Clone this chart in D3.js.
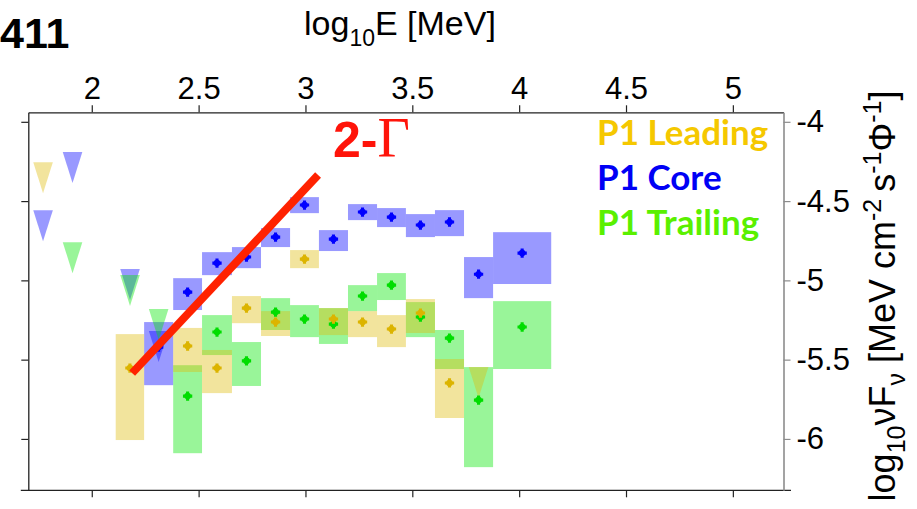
<!DOCTYPE html>
<html>
<head>
<meta charset="utf-8">
<script src="https://cdn.jsdelivr.net/npm/d3@7"></script>
<style>
  html, body { margin: 0; padding: 0; background: #fff; }
  svg { display: block; }
  text { font-family: "Liberation Sans", Arial, sans-serif; }
</style>
</head>
<body>
<svg id="chart" width="917" height="509"></svg>
<script>
// Energy bin edges in log10(E/MeV)
const binEdges = [2.112, 2.245, 2.381, 2.516, 2.656, 2.792, 2.928, 3.063, 3.199, 3.335, 3.470, 3.606, 3.742, 3.878, 4.150];

// log10 nuF_nu per bin: value, lower and upper edge of the uncertainty box (null = no detection)
const leadingVal = [-5.553, null, -5.414, -5.553, -5.175, -5.263, -4.866, -5.244, -5.263, -5.307, -5.206, -5.647, null, null];
const leadingLo  = [-6.007, null, -5.578, -5.711, -5.270, -5.351, -4.923, -5.345, -5.358, -5.421, -5.332, -5.868, null, null];
const leadingHi  = [-5.339, null, -5.300, -5.439, -5.099, -5.194, -4.809, -5.175, -5.194, -5.219, -5.118, -5.496, null, null];

const coreVal = [null, -5.421, -5.074, -4.891, -4.853, -4.727, -4.525, -4.740, -4.569, -4.601, -4.651, -4.632, -4.961, -4.828];
const coreLo  = [null, -5.661, -5.187, -4.967, -4.923, -4.790, -4.576, -4.815, -4.620, -4.664, -4.727, -4.721, -5.112, -5.023];
const coreHi  = [null, -5.263, -4.986, -4.822, -4.790, -4.670, -4.475, -4.683, -4.519, -4.544, -4.582, -4.557, -4.853, -4.696];

const trailingVal = [null, null, -5.730, -5.326, -5.508, -5.200, -5.244, -5.276, -5.099, -5.030, -5.231, -5.364, -5.755, -5.294];
const trailingLo  = [null, null, -6.090, -5.471, -5.666, -5.313, -5.358, -5.401, -5.194, -5.124, -5.358, -5.559, -6.178, -5.559];
const trailingHi  = [null, null, -5.535, -5.219, -5.389, -5.112, -5.156, -5.175, -5.030, -4.954, -5.137, -5.313, -5.547, -5.131];

// Upper limits (x in log10 E, y = limit in log10 nuF_nu)
const leadingLimX  = [1.772, 3.810];
const leadingLimY  = [-4.255, -5.547];
const coreLimX     = [1.910, 1.772, 2.179, 2.313];
const coreLimY     = [-4.191, -4.557, -4.929, -5.320];
const trailingLimX = [1.910, 2.179, 2.313];
const trailingLimY = [-4.759, -4.966, -5.181];

// Reference power-law slope line
const slopeX = [2.189, 3.059];
const slopeY = [-5.585, -4.336];

const xTicks = [2, 2.5, 3, 3.5, 4, 4.5, 5];
const yTicks = [-4, -4.5, -5, -5.5, -6];

const seriesNames = ["P1 Leading", "P1 Core", "P1 Trailing"];

const svg = d3.select("#chart");
const x = d3.scaleLinear().domain([1.703, 5.237]).range([28.3, 783.5]);
const y = d3.scaleLinear().domain([-3.94, -6.324]).range([112.3, 490.3]);

const series = [
  { name: seriesNames[1], val: coreVal, lo: coreLo, hi: coreHi, limX: coreLimX, limY: coreLimY,
    fill: "rgb(0,0,255)", pt: "#0000ff" },
  { name: seriesNames[2], val: trailingVal, lo: trailingLo, hi: trailingHi, limX: trailingLimX, limY: trailingLimY,
    fill: "rgb(0,230,0)", pt: "#00dd00" },
  { name: seriesNames[0], val: leadingVal, lo: leadingLo, hi: leadingHi, limX: leadingLimX, limY: leadingLimY,
    fill: "rgb(222,188,10)", pt: "#dcb400" }
];

const plot = svg.append("g");
const boxAlpha = 0.4;

// uncertainty boxes and upper-limit triangles
series.forEach(s => {
  const rows = s.val.map((v, i) => ({ v, lo: s.lo[i], hi: s.hi[i], x0: binEdges[i], x1: binEdges[i + 1] }))
    .filter(d => d.v !== null);
  plot.append("g").selectAll("rect").data(rows).join("rect")
    .attr("x", d => x(d.x0))
    .attr("width", d => x(d.x1) - x(d.x0))
    .attr("y", d => y(d.hi))
    .attr("height", d => y(d.lo) - y(d.hi))
    .attr("fill", s.fill)
    .attr("fill-opacity", boxAlpha);

  const lims = s.limX.map((lx, i) => ({ x: lx, y: s.limY[i] }));
  plot.append("g").selectAll("path").data(lims).join("path")
    .attr("d", d => {
      const cx = x(d.x), top = y(d.y);
      return `M${cx - 9.8},${top} L${cx + 9.8},${top} L${cx},${top + 31} Z`;
    })
    .attr("fill", s.fill)
    .attr("fill-opacity", boxAlpha);
});

// central values
const marker = d3.symbol().type(d3.symbolCross).size(48);
series.forEach(s => {
  const pts = s.val.map((v, i) => ({ v, c: (binEdges[i] + binEdges[i + 1]) / 2 })).filter(d => d.v !== null);
  const g = plot.append("g").attr("fill", s.pt);
  g.selectAll("path").data(pts).join("path")
    .attr("transform", d => `translate(${x(d.c)},${y(d.v)})`)
    .attr("d", marker);
  g.selectAll("circle").data(pts).join("circle")
    .attr("cx", d => x(d.c)).attr("cy", d => y(d.v)).attr("r", 3.3);
});

// slope reference line
svg.append("line")
  .attr("x1", x(slopeX[0])).attr("y1", y(slopeY[0]))
  .attr("x2", x(slopeX[1])).attr("y2", y(slopeY[1]))
  .attr("stroke", "rgb(255,34,0)").attr("stroke-width", 8);

const slopeLabel = svg.append("text").attr("x", 333).attr("y", 157).attr("fill", "rgb(255,20,10)");
slopeLabel.append("tspan").text("2-")
  .style("font-family", "'Liberation Sans', Arial, sans-serif").style("font-weight", "bold").style("font-size", "50px");
slopeLabel.append("tspan").text("Γ")
  .style("font-family", "'Liberation Serif', 'Times New Roman', serif").style("font-size", "56px");

// axes
const axisColor = "#222";
const topAxis = svg.append("g").attr("transform", `translate(0,${y.range()[0]})`)
  .call(d3.axisTop(x).tickValues(xTicks).tickSize(7).tickPadding(6).tickSizeOuter(0).tickFormat(d => String(d)));
topAxis.select(".domain").attr("stroke", axisColor).attr("stroke-width", 1.3);
topAxis.selectAll(".tick line").attr("stroke", axisColor).attr("stroke-width", 1.2);
topAxis.selectAll(".tick text").attr("fill", "#000")
  .style("font-size", "31px").style("font-family", "'Liberation Sans', Arial, sans-serif");

const bottomAxis = svg.append("g").attr("transform", `translate(0,${y.range()[1]})`)
  .call(d3.axisBottom(x).tickValues(xTicks).tickSize(7).tickSizeOuter(0).tickFormat(""));
bottomAxis.select(".domain").attr("d", `M${x.range()[0] - 7.5},0H${x.range()[1] + 7.5}`)
  .attr("stroke", axisColor).attr("stroke-width", 1.3);
bottomAxis.selectAll(".tick line").attr("stroke", axisColor).attr("stroke-width", 1.2);

const leftAxis = svg.append("g").attr("transform", `translate(${x.range()[0]},0)`)
  .call(d3.axisLeft(y).tickValues(yTicks).tickSize(7).tickSizeOuter(0).tickFormat(""));
leftAxis.select(".domain").attr("stroke", axisColor).attr("stroke-width", 1.3);
leftAxis.selectAll(".tick line").attr("stroke", axisColor).attr("stroke-width", 1.2);

const rightAxis = svg.append("g").attr("transform", `translate(${x.range()[1]},0)`)
  .call(d3.axisRight(y).tickValues(yTicks).tickSize(7).tickPadding(6).tickSizeOuter(0).tickFormat(d => String(d)));
rightAxis.select(".domain").attr("stroke", "#8c8c8c").attr("stroke-width", 1.6);
rightAxis.selectAll(".tick line").attr("stroke", "#8c8c8c").attr("stroke-width", 1.2);
rightAxis.selectAll(".tick text").attr("fill", "#000")
  .style("font-size", "31px").style("font-family", "'Liberation Sans', Arial, sans-serif");

// axis titles
const xTitle = svg.append("text").attr("x", 304).attr("y", 35)
  .style("font-size", "34px").attr("fill", "#000");
xTitle.append("tspan").text("log");
xTitle.append("tspan").text("10").style("font-size", "23px").attr("dy", 11);
xTitle.append("tspan").text("E [MeV]").attr("dy", -11);

const yTitle = svg.append("text")
  .attr("transform", "translate(895,296) rotate(-90)")
  .attr("text-anchor", "middle")
  .style("font-size", "36px").attr("fill", "#000");
yTitle.append("tspan").text("log");
yTitle.append("tspan").text("10").style("font-size", "25px").attr("dy", 10);
yTitle.append("tspan").text("νF").attr("dy", -10);
yTitle.append("tspan").text("ν").style("font-size", "25px").attr("dy", 10);
yTitle.append("tspan").text(" [MeV cm").attr("dy", -10);
yTitle.append("tspan").text("-2").style("font-size", "25px").attr("dy", -14);
yTitle.append("tspan").text("s").attr("dy", 14).attr("dx", 7);
yTitle.append("tspan").text("-1").style("font-size", "25px").attr("dy", -14);
yTitle.append("tspan").text("Φ").attr("dy", 14);
yTitle.append("tspan").text("-1").style("font-size", "25px").attr("dy", -14);
yTitle.append("tspan").text("]").attr("dy", 14);

// panel tag
svg.append("text").attr("x", 0).attr("y", 48).text("411")
  .style("font-size", "43px").style("font-weight", "bold").attr("fill", "#000");

// legend
const legendColors = ["rgb(245,200,0)", "rgb(0,0,245)", "rgb(90,240,0)"];
svg.append("g").selectAll("text").data(seriesNames).join("text")
  .attr("x", 597).attr("y", (d, i) => 145 + i * 45)
  .text(d => d)
  .attr("fill", (d, i) => legendColors[i])
  .style("font-family", "Lato, 'Open Sans', sans-serif")
  .style("font-weight", "bold").style("font-size", "35px");
</script>
</body>
</html>
